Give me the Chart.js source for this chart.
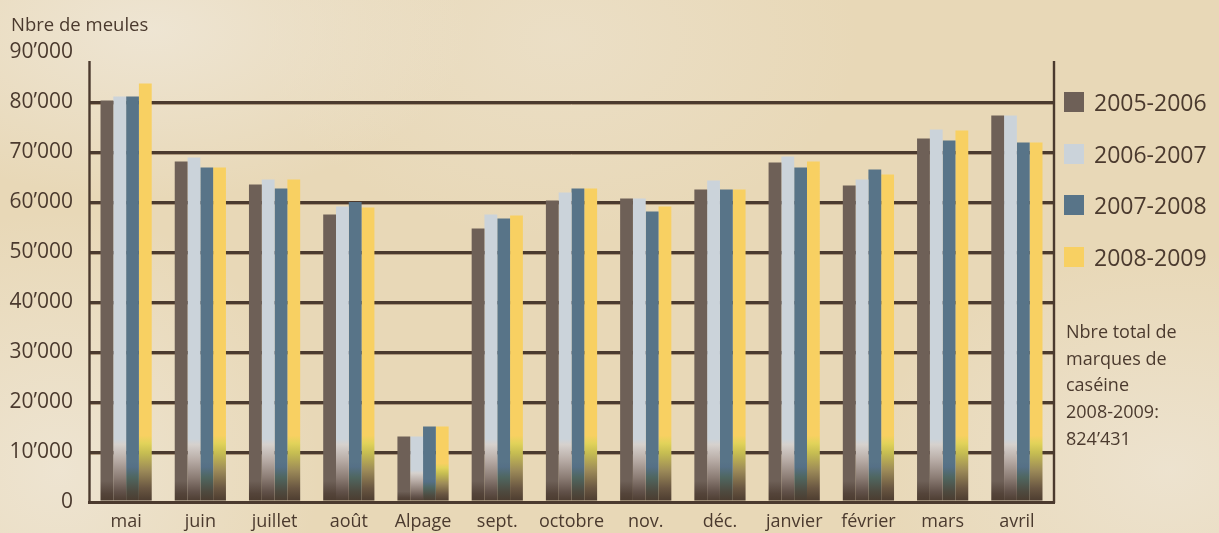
<!DOCTYPE html>
<html>
<head>
<meta charset="utf-8">
<script src="https://cdn.jsdelivr.net/npm/chart.js@4"></script>
<style>
  html, body { margin: 0; padding: 0; }
  #wrap {
    position: relative;
    width: 1219px;
    height: 533px;
    overflow: hidden;
    font-family: "Open Sans", sans-serif;
    color: #4b3a2e;
    background:
      radial-gradient(ellipse 320px 170px at 150px 30px, rgba(240,233,220,0.75), rgba(240,233,220,0)),
      radial-gradient(ellipse 260px 260px at 60px 470px, rgba(240,233,220,0.7), rgba(240,233,220,0)),
      radial-gradient(ellipse 300px 220px at 1170px 470px, rgba(239,231,217,0.7), rgba(239,231,217,0)),
      radial-gradient(ellipse 300px 200px at 560px 40px, rgba(238,229,212,0.5), rgba(238,229,212,0)),
      #e8d8b7;
  }
  #chart { position: absolute; left: 0; top: 0; }
  #title { position: absolute; left: 11px; top: 11px; font-size: 18.5px; white-space: nowrap; }
  #legend { position: absolute; left: 1064px; top: 92px; }
  .item { display: flex; align-items: center; height: 20px; margin-bottom: 31.5px; }
  .box { width: 20px; height: 20px; margin-right: 10px; }
  .item span { font-size: 23px; line-height: 20px; white-space: nowrap; }
  #note { position: absolute; left: 1066px; top: 318px; font-size: 18px; line-height: 26.7px; }
</style>
</head>
<body>
<div id="wrap">
  <canvas id="chart" width="1219" height="533"></canvas>
  <div id="title"></div>
  <div id="legend"></div>
  <div id="note"></div>
</div>
<script>
const yTitle = "Nbre de meules";
const months = ["mai", "juin", "juillet", "août", "Alpage", "sept.", "octobre", "nov.", "déc.", "janvier", "février", "mars", "avril"];
const seasons = ["2005-2006", "2006-2007", "2007-2008", "2008-2009"];
const s0506 = [80300, 68100, 63500, 57500, 13100, 54700, 60300, 60700, 62500, 67900, 63300, 72700, 77300];
const s0607 = [81100, 68900, 64500, 59100, 13100, 57500, 61900, 60700, 64300, 69100, 64500, 74500, 77300];
const s0708 = [81100, 66900, 62700, 60000, 15100, 56700, 62700, 58100, 62500, 66900, 66500, 72300, 71900];
const s0809 = [83700, 66900, 64500, 58900, 15100, 57300, 62700, 59100, 62500, 68100, 65500, 74300, 71900];
const yTickLabels = ["0", "10’000", "20’000", "30’000", "40’000", "50’000", "60’000", "70’000", "80’000", "90’000"];
const noteLines = ["Nbre total de", "marques de", "caséine", "2008-2009:", "824’431"];

const ink = "#4b3a2e";
const colors = ["#6e6057", "#cbd3da", "#587488", "#f8d062"];
// bottom fade of each bar: [position 0..1 of fade height, colour]
const fades = [
  [[0, "#4a3a2e"], [0.12, "#54443a"], [0.3, "#6e6057"], [1, "#6e6057"]],
  [[0, "#4a3a2e"], [0.15, "#62524a"], [0.35, "#8c7d75"], [0.6, "#b8aca6"], [0.82, "#d6d1cd"], [0.9, "#cbd3da"], [1, "#cbd3da"]],
  [[0, "#4a3a2e"], [0.15, "#4e4a3f"], [0.35, "#4f6660"], [0.5, "#557086"], [0.58, "#587488"], [1, "#587488"]],
  [[0, "#4a3a2e"], [0.2, "#6a5742"], [0.45, "#9c8a58"], [0.7, "#c6bd52"], [0.84, "#e2d35a"], [0.95, "#f8d062"], [1, "#f8d062"]]
];
const fadeTop = 14000;

document.getElementById("title").textContent = yTitle;
document.getElementById("note").innerHTML = noteLines.join("<br>");

const legend = document.getElementById("legend");
seasons.forEach((season, i) => {
  const item = document.createElement("div");
  item.className = "item";
  item.innerHTML = `<div class="box" style="background:${colors[i]}"></div><span>${season}</span>`;
  legend.appendChild(item);
});

const barFill = (i) => (context) => {
  const chart = context.chart;
  if (!chart.chartArea || context.raw === undefined) return colors[i];
  const y = chart.scales.y;
  const k = Math.min(1, (context.raw * 0.5) / 13000);
  const y0 = y.getPixelForValue(0);
  const y1 = y.getPixelForValue(fadeTop * k);
  const g = chart.ctx.createLinearGradient(0, y0, 0, y1);
  fades[i].forEach(([t, c]) => g.addColorStop(t, c));
  return g;
};

const axisLines = {
  id: "axisLines",
  beforeDatasetsDraw(chart) {
    const { ctx, chartArea, scales } = chart;
    ctx.save();
    // light shadow under each grid line
    ctx.strokeStyle = "rgba(160,136,108,0.8)";
    ctx.lineWidth = 1;
    scales.y.ticks.forEach((t) => {
      if (t.value === 0 || t.value === 90000) return;
      const py = Math.round(scales.y.getPixelForValue(t.value)) + 2.5;
      ctx.beginPath();
      ctx.moveTo(chartArea.left, py);
      ctx.lineTo(chartArea.right, py);
      ctx.stroke();
    });
    ctx.restore();
  },
  afterDatasetsDraw(chart) {
    const { ctx, chartArea, scales } = chart;
    const top = scales.y.getPixelForValue(88200);
    ctx.save();
    ctx.strokeStyle = ink;
    ctx.lineWidth = 2.4;
    ctx.beginPath();
    ctx.moveTo(chartArea.left + 0.5, top);
    ctx.lineTo(chartArea.left + 0.5, chartArea.bottom);
    ctx.moveTo(chartArea.right, top);
    ctx.lineTo(chartArea.right, chartArea.bottom + 1);
    ctx.stroke();
    ctx.restore();
  }
};

const seriesData = [s0506, s0607, s0708, s0809];

new Chart(document.getElementById("chart"), {
  type: "bar",
  data: {
    labels: months,
    datasets: seasons.map((season, i) => ({
      label: season,
      data: seriesData[i],
      backgroundColor: barFill(i),
      borderWidth: 0,
      categoryPercentage: 0.69,
      barPercentage: 1.0,
    })),
  },
  options: {
    responsive: false,
    animation: false,
    layout: { padding: { top: 52, right: 165, left: 0, bottom: 0 } },
    plugins: {
      legend: { display: false },
      tooltip: { enabled: false },
    },
    scales: {
      x: {
        grid: { display: false, drawTicks: false },
        border: { display: true, color: ink, width: 3 },
        ticks: {
          color: ink,
          font: { family: "Open Sans", size: 18 },
          padding: 9,
          maxRotation: 0,
          autoSkip: false,
        },
        afterFit: (scale) => {
          scale.height = 31;
        },
      },
      y: {
        min: 0,
        max: 90000,
        border: { display: false },
        grid: {
          drawTicks: false,
          lineWidth: 3,
          color: (c) => (c.tick && (c.tick.value === 0 || c.tick.value === 90000) ? "rgba(0,0,0,0)" : ink),
        },
        ticks: {
          stepSize: 10000,
          color: ink,
          font: { family: "Open Sans", size: 21 },
          padding: 16,
          callback: (value, index) => yTickLabels[index],
        },
        afterFit: (scale) => {
          scale.width = 89;
        },
      },
    },
  },
  plugins: [axisLines],
});
</script>
</body>
</html>
